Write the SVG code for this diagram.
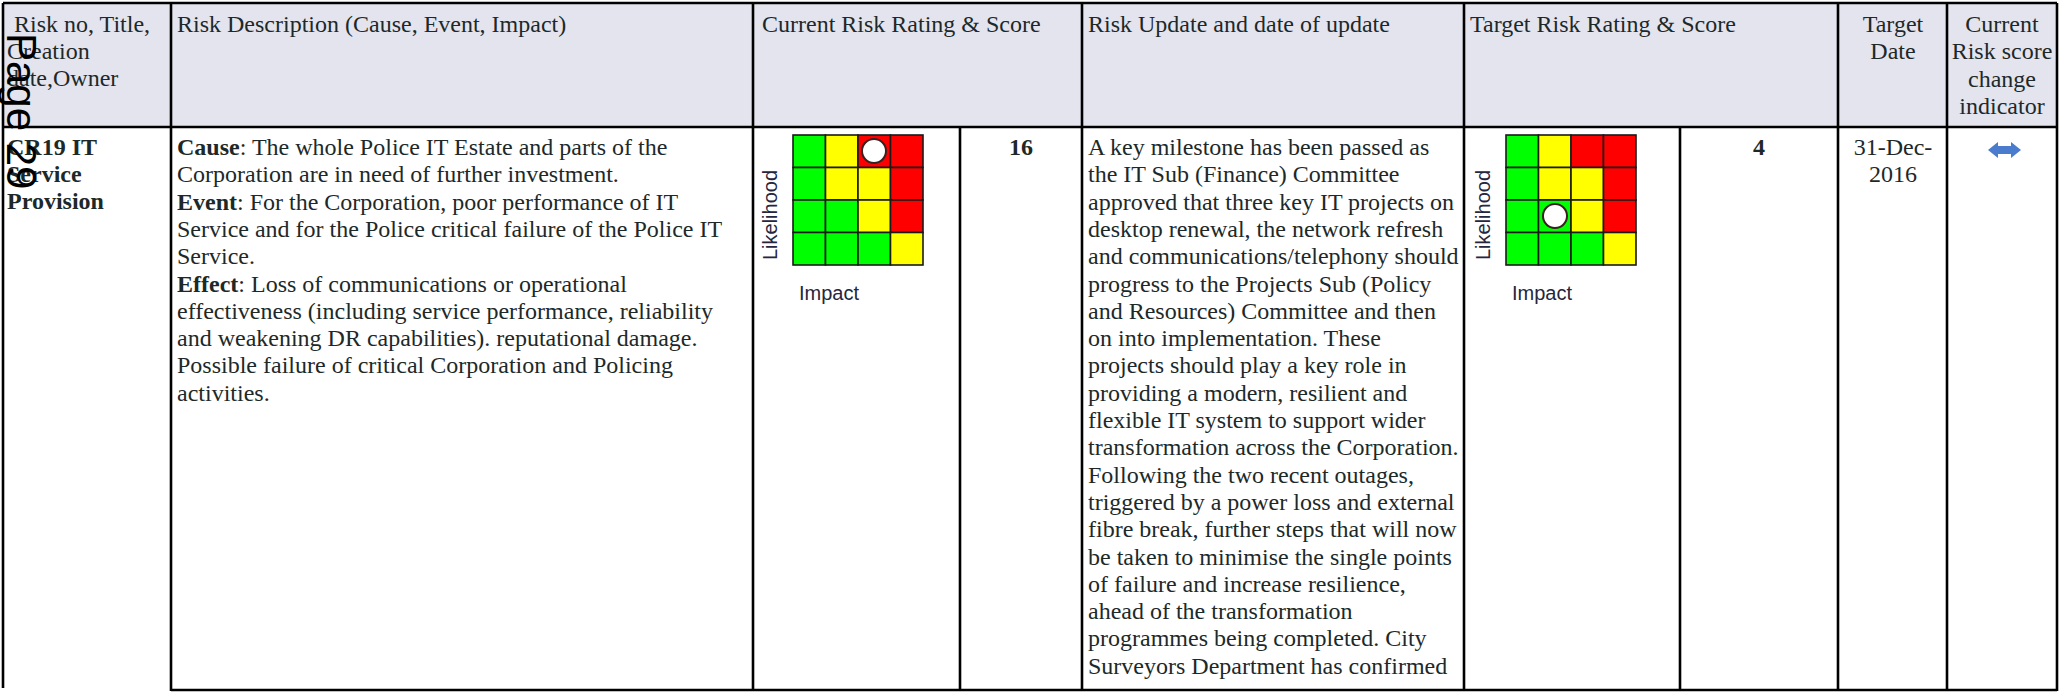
<svg xmlns="http://www.w3.org/2000/svg" width="2060" height="692" viewBox="0 0 2060 692">
  <style>
    .t { font-family: "Liberation Serif", "Times New Roman", serif; font-size: 24px; fill: #1d2929; }
    .b { font-weight: bold; }
    .mid { text-anchor: middle; }
    .lbl { font-family: "Liberation Sans", Arial, sans-serif; font-size: 20px; fill: #26263e; }
    .rule { stroke: #000; stroke-width: 2.6; fill: none; }
    .cellG { fill: #00ff00; stroke: #1a1a1a; stroke-width: 1.6; }
    .cellY { fill: #ffff00; stroke: #1a1a1a; stroke-width: 1.6; }
    .cellR { fill: #ff0000; stroke: #1a1a1a; stroke-width: 1.6; }
    .dot { fill: #ffffff; stroke: #3a2020; stroke-width: 2; }
    .page { font-family: "Liberation Sans", Arial, sans-serif; font-size: 42px; fill: #000; }
  </style>
  <defs>
    <!-- 4x4 likelihood / impact heat map, 130 x 130 -->
    <g id="heatmap">
      <rect class="cellG" x="0" y="0" width="32.5" height="32.5"/>
      <rect class="cellY" x="32.5" y="0" width="32.5" height="32.5"/>
      <rect class="cellR" x="65" y="0" width="32.5" height="32.5"/>
      <rect class="cellR" x="97.5" y="0" width="32.5" height="32.5"/>
      <rect class="cellG" x="0" y="32.5" width="32.5" height="32.5"/>
      <rect class="cellY" x="32.5" y="32.5" width="32.5" height="32.5"/>
      <rect class="cellY" x="65" y="32.5" width="32.5" height="32.5"/>
      <rect class="cellR" x="97.5" y="32.5" width="32.5" height="32.5"/>
      <rect class="cellG" x="0" y="65" width="32.5" height="32.5"/>
      <rect class="cellG" x="32.5" y="65" width="32.5" height="32.5"/>
      <rect class="cellY" x="65" y="65" width="32.5" height="32.5"/>
      <rect class="cellR" x="97.5" y="65" width="32.5" height="32.5"/>
      <rect class="cellG" x="0" y="97.5" width="32.5" height="32.5"/>
      <rect class="cellG" x="32.5" y="97.5" width="32.5" height="32.5"/>
      <rect class="cellG" x="65" y="97.5" width="32.5" height="32.5"/>
      <rect class="cellY" x="97.5" y="97.5" width="32.5" height="32.5"/>
    </g>
  </defs>

  <!-- header band -->
  <rect x="3" y="3" width="2054" height="124" fill="#e4e4ef"/>

  <!-- table rules -->
  <g id="rules">
    <line class="rule" x1="3" y1="3" x2="2057" y2="3"/>
    <line class="rule" x1="3" y1="127" x2="2057" y2="127"/>
    <line class="rule" x1="171" y1="690" x2="2057" y2="690"/>
    <line class="rule" x1="3" y1="3" x2="3" y2="688"/>
    <line class="rule" x1="171" y1="3" x2="171" y2="691"/>
    <line class="rule" x1="753" y1="3" x2="753" y2="691"/>
    <line class="rule" x1="960" y1="127" x2="960" y2="691"/>
    <line class="rule" x1="1082" y1="3" x2="1082" y2="691"/>
    <line class="rule" x1="1464" y1="3" x2="1464" y2="691"/>
    <line class="rule" x1="1680" y1="127" x2="1680" y2="691"/>
    <line class="rule" x1="1838" y1="3" x2="1838" y2="691"/>
    <line class="rule" x1="1947" y1="3" x2="1947" y2="691"/>
    <line class="rule" x1="2057" y1="3" x2="2057" y2="691"/>
  </g>

  <!-- column headings -->
  <g id="header">
    <text class="t" x="14" y="32">Risk no, Title,</text>
    <text class="t" x="7" y="59">Creation</text>
    <text class="t" x="7" y="86">date,Owner</text>
    <text class="t" x="177" y="32">Risk Description (Cause, Event, Impact)</text>
    <text class="t" x="762" y="32">Current Risk Rating &amp; Score</text>
    <text class="t" x="1088" y="32">Risk Update and date of update</text>
    <text class="t" x="1470" y="32">Target Risk Rating &amp; Score</text>
    <text class="t mid" x="1893" y="32">Target</text>
    <text class="t mid" x="1893" y="59">Date</text>
    <text class="t mid" x="2002" y="32">Current</text>
    <text class="t mid" x="2002" y="59">Risk score</text>
    <text class="t mid" x="2002" y="87">change</text>
    <text class="t mid" x="2002" y="114">indicator</text>
  </g>

  <!-- risk title -->
  <g id="risk-title">
    <text class="t b" x="7" y="155">CR19 IT</text>
    <text class="t b" x="7" y="182">Service</text>
    <text class="t b" x="7" y="209">Provision</text>
  </g>

  <!-- risk description -->
  <g id="risk-description">
    <text class="t" x="177" y="155"><tspan class="b">Cause</tspan>: The whole Police IT Estate and parts of the</text>
    <text class="t" x="177" y="182.3">Corporation are in need of further investment.</text>
    <text class="t" x="177" y="209.6"><tspan class="b">Event</tspan>: For the Corporation, poor performance of IT</text>
    <text class="t" x="177" y="236.9">Service and for the Police critical failure of the Police IT</text>
    <text class="t" x="177" y="264.2">Service.</text>
    <text class="t" x="177" y="291.5"><tspan class="b">Effect</tspan>: Loss of communications or operational</text>
    <text class="t" x="177" y="318.8">effectiveness (including service performance, reliability</text>
    <text class="t" x="177" y="346.1">and weakening DR capabilities). reputational damage.</text>
    <text class="t" x="177" y="373.4">Possible failure of critical Corporation and Policing</text>
    <text class="t" x="177" y="400.7">activities.</text>
  </g>

  <!-- current risk rating -->
  <g id="current-rating">
    <use href="#heatmap" x="793" y="135"/>
    <circle class="dot" cx="874" cy="151" r="12"/>
    <text class="lbl mid" transform="translate(777,215) rotate(-90)">Likelihood</text>
    <text class="lbl" x="799" y="300">Impact</text>
    <text class="t b mid" x="1021" y="155">16</text>
  </g>

  <!-- risk update -->
  <g id="risk-update">
    <text class="t" x="1088" y="155">A key milestone has been passed as</text>
    <text class="t" x="1088" y="182.3">the IT Sub (Finance) Committee</text>
    <text class="t" x="1088" y="209.6">approved that three key IT projects on</text>
    <text class="t" x="1088" y="236.9">desktop renewal, the network refresh</text>
    <text class="t" x="1088" y="264.2">and communications/telephony should</text>
    <text class="t" x="1088" y="291.5">progress to the Projects Sub (Policy</text>
    <text class="t" x="1088" y="318.8">and Resources) Committee and then</text>
    <text class="t" x="1088" y="346.1">on into implementation. These</text>
    <text class="t" x="1088" y="373.4">projects should play a key role in</text>
    <text class="t" x="1088" y="400.7">providing a modern, resilient and</text>
    <text class="t" x="1088" y="428">flexible IT system to support wider</text>
    <text class="t" x="1088" y="455.3">transformation across the Corporation.</text>
    <text class="t" x="1088" y="482.6">Following the two recent outages,</text>
    <text class="t" x="1088" y="509.9">triggered by a power loss and external</text>
    <text class="t" x="1088" y="537.2">fibre break, further steps that will now</text>
    <text class="t" x="1088" y="564.5">be taken to minimise the single points</text>
    <text class="t" x="1088" y="591.8">of failure and increase resilience,</text>
    <text class="t" x="1088" y="619.1">ahead of the transformation</text>
    <text class="t" x="1088" y="646.4">programmes being completed. City</text>
    <text class="t" x="1088" y="673.7">Surveyors Department has confirmed</text>
  </g>

  <!-- target risk rating -->
  <g id="target-rating">
    <use href="#heatmap" x="1506" y="135"/>
    <circle class="dot" cx="1555" cy="216" r="12"/>
    <text class="lbl mid" transform="translate(1490,215) rotate(-90)">Likelihood</text>
    <text class="lbl" x="1512" y="300">Impact</text>
    <text class="t b mid" x="1759" y="155">4</text>
  </g>

  <!-- target date -->
  <g id="target-date">
    <text class="t mid" x="1893" y="155">31-Dec-</text>
    <text class="t mid" x="1893" y="182">2016</text>
  </g>

  <!-- score change indicator: unchanged -->
  <g id="change-indicator">
    <polygon points="1988,150 1998,142 1998,146 2011,146 2011,142 2021,150 2011,158 2011,154 1998,154 1998,158" fill="#4a7bcc"/>
  </g>

  <!-- page number stamp -->
  <text class="page" transform="translate(7,33) rotate(90)">Page 29</text>
</svg>
